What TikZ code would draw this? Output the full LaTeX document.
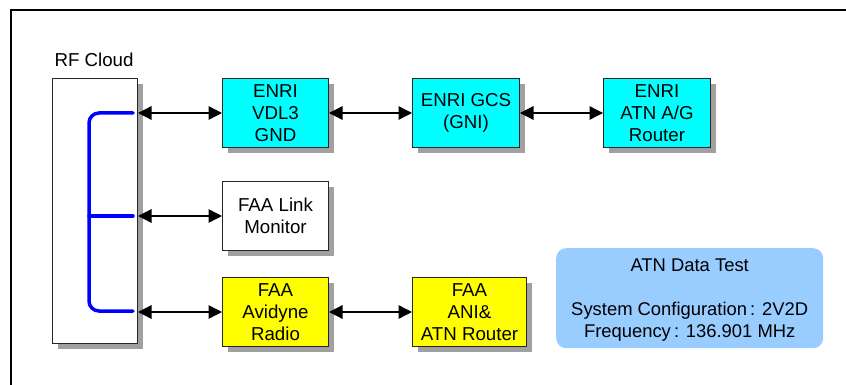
\documentclass[tikz,border=0pt]{standalone}
\usepackage{fontspec}
\setmainfont{Liberation Sans}
\usetikzlibrary{arrows.meta,shadows}
\definecolor{skyb}{RGB}{153,204,255}
\definecolor{shadowg}{RGB}{160,160,160}
\definecolor{cyanb}{RGB}{0,255,255}
\definecolor{yellowb}{RGB}{255,255,0}
\tikzset{
  x=1pt,y=-1pt,
  block/.style={draw=black!85,line width=1pt,minimum width=106pt,minimum height=69pt,inner sep=0pt,align=center,
    font=\fontsize{18.7}{22.2}\selectfont,anchor=north west,
    general shadow={shadow xshift=5.5pt,shadow yshift=-5.5pt,fill=shadowg,draw=none}},
  link/.style={{Triangle[length=13.5pt,width=13.5pt]}-{Triangle[length=13.5pt,width=13.5pt]},line width=1.3pt,black},
  bus/.style={draw=blue,line width=3.5pt,line cap=round,rounded corners=10pt},
  lbl/.style={font=\fontsize{18.7}{22.2}\selectfont,align=center,inner sep=0pt}
}
\begin{document}
\begin{tikzpicture}
\useasboundingbox (0,0) rectangle (846,385);
\clip (0,0) rectangle (846,385);
\draw[line width=2pt,black] (11,386) -- (11,10) -- (847,10);

\node[block,fill=white,minimum width=85pt,minimum height=265pt] (rf) at (52,78) {};
\node[lbl,anchor=base] (rflabel) at (94,67) {RF Cloud};

\node[block,fill=cyanb] (vdl) at (222,78) {ENRI\\VDL3\\GND};
\node[block,fill=cyanb,minimum width=107pt] (gcs) at (412,78) {ENRI GCS\\(GNI)};
\node[block,fill=cyanb,minimum width=107pt] (atn) at (603,78) {ENRI\\ATN A/G\\Router};
\node[block,fill=white] (mon) at (222,181) {FAA Link\\Monitor};
\node[block,fill=yellowb] (avi) at (222,277) {FAA\\Avidyne\\Radio};
\node[block,fill=yellowb,minimum width=114pt] (ani) at (412,277) {FAA\\ANI\&\\ATN Router};

\node[fill=skyb,draw=none,rounded corners=10pt,minimum width=267pt,minimum height=100pt,anchor=north west,
  inner sep=0pt,text depth=0pt,align=center,font=\fontsize{18.4}{22.2}\selectfont] (note) at (556,248)
  {\rule{0pt}{10pt}ATN Data Test\\[0pt]\strut\\System Configuration\,: 2V2D\\Frequency\,: 136.901 MHz};

\coordinate (bustop) at (133,113);
\coordinate (busmid) at (133,216);
\coordinate (busbot) at (133,311);
\draw[bus] (bustop) -- (89,113) -- (89,311) -- (busbot);
\draw[bus] (89,216) -- (busmid);

\draw[link] (rf.east|-vdl.west) -- (vdl.west);
\draw[link] (rf.east|-mon.west) -- (mon.west);
\draw[link] (rf.east|-avi.west) -- (avi.west);
\draw[link] (vdl.east) -- (gcs.west);
\draw[link] (gcs.east) -- (atn.west);
\draw[link] (avi.east) -- (ani.west);
\end{tikzpicture}
\end{document}
